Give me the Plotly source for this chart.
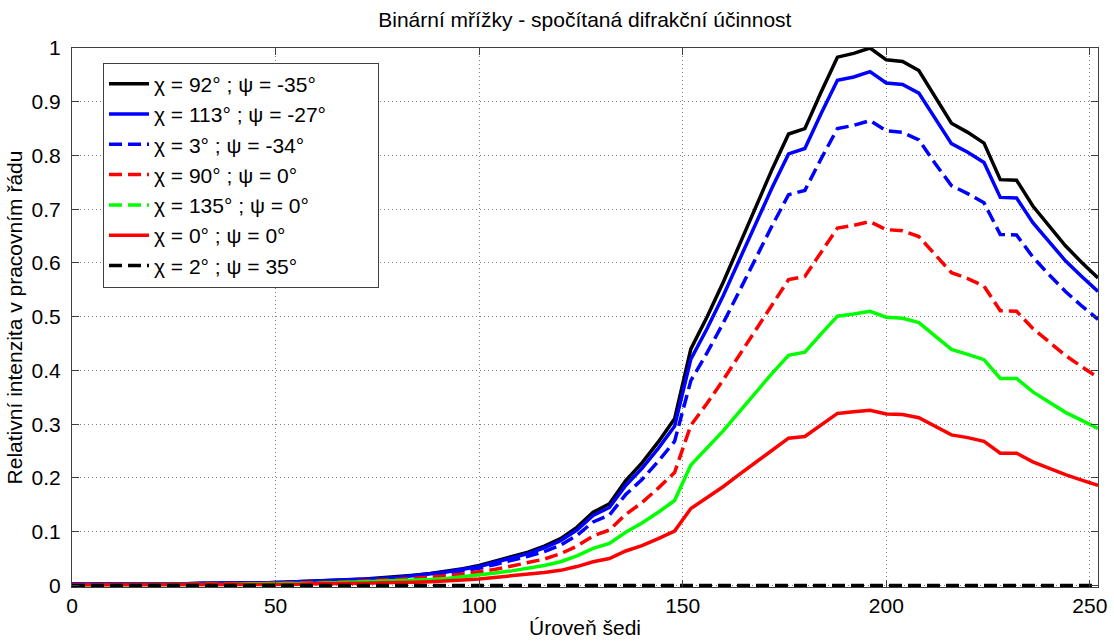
import plotly.graph_objects as go

# Grey level (0..252, step 4)
uroven = list(range(0, 253, 4))

# Relative intensity in the working diffraction order
chi92_psi_m35 = [0.002, 0.002, 0.002, 0.002, 0.002, 0.002, 0.002, 0.003, 0.004, 0.004,
                 0.004, 0.005, 0.005, 0.006, 0.007, 0.008, 0.009, 0.011, 0.012, 0.014,
                 0.016, 0.019, 0.022, 0.026, 0.031, 0.037, 0.045, 0.053, 0.062, 0.073,
                 0.087, 0.108, 0.136, 0.152, 0.195, 0.228, 0.267, 0.310, 0.440, 0.500,
                 0.565, 0.635, 0.705, 0.775, 0.840, 0.850, 0.918, 0.983, 0.990, 1.000,
                 0.978, 0.975, 0.958, 0.908, 0.860, 0.843, 0.823, 0.755, 0.754, 0.706,
                 0.668, 0.632, 0.601, 0.572]

chi113_psi_m27 = [0.002, 0.002, 0.002, 0.002, 0.002, 0.002, 0.002, 0.003, 0.004, 0.004,
                  0.004, 0.005, 0.005, 0.006, 0.007, 0.008, 0.009, 0.011, 0.011, 0.013,
                  0.015, 0.018, 0.021, 0.025, 0.030, 0.035, 0.043, 0.051, 0.059, 0.070,
                  0.083, 0.103, 0.130, 0.145, 0.186, 0.218, 0.255, 0.296, 0.421, 0.478,
                  0.540, 0.607, 0.674, 0.741, 0.803, 0.813, 0.878, 0.940, 0.946, 0.956,
                  0.935, 0.932, 0.916, 0.868, 0.822, 0.806, 0.787, 0.722, 0.721, 0.675,
                  0.639, 0.604, 0.575, 0.547]

chi3_psi_m34 = [0.002, 0.002, 0.002, 0.002, 0.002, 0.002, 0.002, 0.003, 0.003, 0.003,
                0.003, 0.004, 0.004, 0.005, 0.006, 0.007, 0.008, 0.010, 0.010, 0.012,
                0.014, 0.016, 0.019, 0.022, 0.027, 0.032, 0.039, 0.046, 0.054, 0.063,
                0.075, 0.093, 0.118, 0.131, 0.169, 0.197, 0.231, 0.268, 0.381, 0.433,
                0.489, 0.549, 0.610, 0.670, 0.727, 0.735, 0.794, 0.850, 0.856, 0.865,
                0.846, 0.843, 0.829, 0.785, 0.744, 0.729, 0.712, 0.653, 0.652, 0.611,
                0.578, 0.547, 0.520, 0.495]

chi90_psi_0 = [0.001, 0.001, 0.001, 0.001, 0.001, 0.001, 0.001, 0.002, 0.003, 0.003,
               0.003, 0.003, 0.003, 0.004, 0.005, 0.005, 0.006, 0.007, 0.008, 0.009,
               0.011, 0.013, 0.015, 0.018, 0.021, 0.025, 0.030, 0.036, 0.042, 0.049,
               0.059, 0.073, 0.092, 0.103, 0.132, 0.154, 0.181, 0.210, 0.298, 0.339,
               0.383, 0.430, 0.477, 0.525, 0.569, 0.575, 0.621, 0.665, 0.670, 0.677,
               0.662, 0.660, 0.649, 0.615, 0.582, 0.571, 0.557, 0.511, 0.510, 0.478,
               0.452, 0.428, 0.407, 0.387]

chi135_psi_0 = [0.001, 0.001, 0.001, 0.001, 0.001, 0.001, 0.001, 0.002, 0.002, 0.002,
                0.002, 0.003, 0.003, 0.003, 0.004, 0.004, 0.005, 0.006, 0.006, 0.007,
                0.008, 0.010, 0.011, 0.013, 0.016, 0.019, 0.023, 0.027, 0.032, 0.037,
                0.044, 0.055, 0.069, 0.078, 0.099, 0.116, 0.136, 0.158, 0.224, 0.255,
                0.288, 0.324, 0.360, 0.395, 0.428, 0.434, 0.468, 0.501, 0.505, 0.510,
                0.499, 0.497, 0.489, 0.463, 0.439, 0.430, 0.420, 0.385, 0.385, 0.360,
                0.341, 0.322, 0.307, 0.292]

chi0_psi_0 = [0.001, 0.001, 0.001, 0.001, 0.001, 0.001, 0.001, 0.001, 0.001, 0.001,
              0.001, 0.002, 0.002, 0.002, 0.002, 0.003, 0.003, 0.004, 0.004, 0.005,
              0.005, 0.006, 0.007, 0.008, 0.010, 0.012, 0.015, 0.017, 0.020, 0.024,
              0.028, 0.035, 0.044, 0.050, 0.064, 0.074, 0.087, 0.101, 0.143, 0.163,
              0.184, 0.207, 0.230, 0.253, 0.274, 0.277, 0.299, 0.320, 0.323, 0.326,
              0.319, 0.318, 0.312, 0.296, 0.280, 0.275, 0.268, 0.246, 0.246, 0.230,
              0.218, 0.206, 0.196, 0.186]

chi2_psi_35 = [0.0, 0.0, 0.0, 0.0, 0.0, 0.0, 0.0, 0.0, 0.0, 0.0,
               0.0, 0.0, 0.0, 0.0, 0.0, 0.0, 0.0, 0.0, 0.0, 0.0,
               0.0, 0.0, 0.0, 0.0, 0.0, 0.0, 0.0, 0.0, 0.0, 0.0,
               0.0, 0.0, 0.0, 0.0, 0.0, 0.0, 0.0, 0.0, 0.0, 0.0,
               0.0, 0.0, 0.0, 0.0, 0.0, 0.0, 0.0, 0.0, 0.0, 0.0,
               0.0, 0.0, 0.0, 0.0, 0.0, 0.0, 0.0, 0.0, 0.0, 0.0,
               0.0, 0.0, 0.0, 0.0]

x_ticks = [0, 50, 100, 150, 200, 250]
y_ticks = [0, 0.1, 0.2, 0.3, 0.4, 0.5, 0.6, 0.7, 0.8, 0.9, 1]

FONT = "Liberation Sans, Arial, sans-serif"
DASH = "13px,6px"
PAD = "\u00a0" * 8  # extra room on the right side of the legend box

series = [
    ("χ = 92° ; ψ = -35°", chi92_psi_m35, "#000000", "solid"),
    ("χ = 113° ; ψ = -27°" + PAD, chi113_psi_m27, "#0000FF", "solid"),
    ("χ = 3° ; ψ = -34°", chi3_psi_m34, "#0000FF", DASH),
    ("χ = 90° ; ψ = 0°", chi90_psi_0, "#FF0000", DASH),
    ("χ = 135° ; ψ = 0°", chi135_psi_0, "#00FF00", DASH),
    ("χ = 0° ; ψ = 0°", chi0_psi_0, "#FF0000", "solid"),
    ("χ = 2° ; ψ = 35°", chi2_psi_35, "#000000", DASH),
]

fig = go.Figure()
for i, (name, vals, color, dash) in enumerate(series):
    # the densely sampled green curve renders as an almost continuous line
    plot_dash = "solid" if color == "#00FF00" else dash
    fig.add_trace(go.Scatter(
        x=uroven, y=vals, mode="lines", name=name,
        line=dict(color=color, width=3.5, dash=plot_dash),
        legendgroup=f"g{i}", showlegend=(plot_dash == dash),
    ))
    if plot_dash != dash:
        fig.add_trace(go.Scatter(
            x=[None], y=[None], mode="lines", name=name,
            line=dict(color=color, width=3.5, dash=dash),
            legendgroup=f"g{i}", showlegend=True,
        ))

axis_common = dict(
    automargin=False,
    showline=True, linecolor="#404040", linewidth=1, mirror="ticks",
    ticks="inside", ticklen=7, tickcolor="#404040", tickwidth=1,
    showgrid=True, gridcolor="#808080", gridwidth=1, griddash="1px,3px",
    zeroline=False, tickfont=dict(family=FONT, size=21, color="#000000"),
)

fig.update_layout(
    width=1114, height=642,
    margin=dict(l=72, r=16, t=48, b=55),
    paper_bgcolor="white", plot_bgcolor="white",
    title=dict(text="Binární mřížky - spočítaná difrakční účinnost",
               font=dict(family=FONT, size=21, color="#000000"),
               x=0.525, xanchor="center", y=0.969, yanchor="middle"),
    xaxis=dict(range=[0, 252], tickvals=x_ticks,
               title=dict(text="Úroveň šedi", standoff=4,
                          font=dict(family=FONT, size=21, color="#000000")),
               **axis_common),
    yaxis=dict(range=[-0.003, 1], tickvals=y_ticks, ticklabelstandoff=6,
               title=dict(text="Relativní intenzita v pracovním řádu", standoff=3,
                          font=dict(family=FONT, size=21, color="#000000")),
               **axis_common),
    legend=dict(x=0.0302, y=0.973, xanchor="left", yanchor="top",
                bgcolor="white", bordercolor="#404040", borderwidth=1,
                font=dict(family=FONT, size=21, color="#000000"),
                tracegroupgap=0, itemwidth=40),
    showlegend=True,
)

fig.write_html("out.html")
